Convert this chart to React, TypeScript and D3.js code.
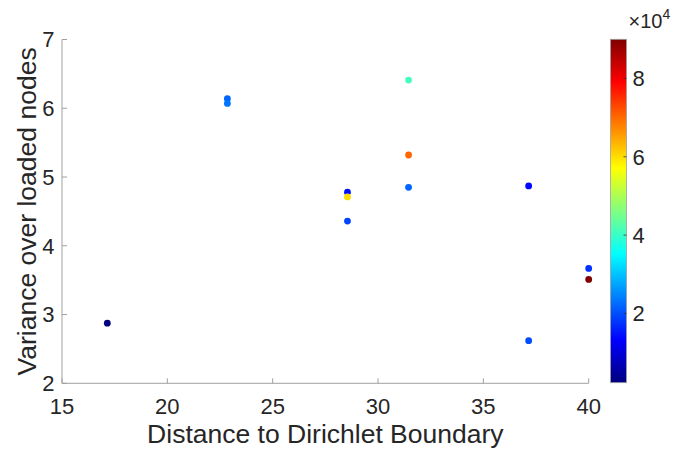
import React from "react";
import * as d3 from "d3";

const distance = [17.15, 22.85, 22.85, 28.55, 28.55, 28.55, 31.45, 31.45, 31.45, 37.15, 37.15, 40, 40];
const variance = [2.875, 6.14, 6.07, 4.78, 4.71, 4.36, 6.41, 5.32, 4.85, 4.87, 2.62, 3.67, 3.51];
const colorValue = [2300, 22000, 23300, 14600, 60000, 19000, 41000, 70300, 22000, 13800, 19800, 17600, 90000];
const xTicks = [15, 20, 25, 30, 35, 40];
const yTicks = [2, 3, 4, 5, 6, 7];
const cTicks = [20000, 40000, 60000, 80000];

const W = 682, H = 455;
const FONT = "'Liberation Sans', Arial, Helvetica, sans-serif";
const TEXT = "#262626";
const AXIS = "#a0a0a0";

function jet(t: number): string {
  const c = (v: number) => Math.max(0, Math.min(1, v));
  const r = c(1.5 - Math.abs(4 * t - 3));
  const g = c(1.5 - Math.abs(4 * t - 2));
  const b = c(1.5 - Math.abs(4 * t - 1));
  return d3.rgb(r * 255, g * 255, b * 255).toString();
}

export default function App() {
  const x = d3.scaleLinear().domain([15, 40]).range([62, 588.7]);
  const y = d3.scaleLinear().domain([2, 7]).range([383.3, 39.5]);
  const cMin = d3.min(colorValue)!, cMax = d3.max(colorValue)!;
  const cNorm = d3.scaleLinear().domain([cMin, cMax]).range([0, 1]).clamp(true);
  const cbY = d3.scaleLinear().domain([cMin, cMax]).range([382.7, 39.3]);
  const cbX0 = 610.5, cbW = 16;
  const stops = d3.range(0, 65).map((i) => i / 64);

  return (
    <svg width={W} height={H} style={{ position: "absolute", left: 0, top: 0, background: "#fff" }} fontFamily={FONT}>
      <defs>
        <linearGradient id="jetGrad" x1="0" y1="1" x2="0" y2="0">
          {stops.map((s, i) => (
            <stop key={i} offset={s} stopColor={jet(s)} />
          ))}
        </linearGradient>
      </defs>
      <rect x={0} y={0} width={W} height={H} fill="#fff" />
      {/* axes */}
      <line x1={x(15)} x2={x(40)} y1={y(2)} y2={y(2)} stroke={AXIS} strokeWidth={1} />
      <line x1={x(15)} x2={x(15)} y1={y(2)} y2={y(7)} stroke={AXIS} strokeWidth={1} />
      {xTicks.map((t) => (
        <g key={"x" + t}>
          <line x1={x(t)} x2={x(t)} y1={y(2)} y2={y(2) - 5} stroke={AXIS} />
          <text x={x(t)} y={413.5} textAnchor="middle" fontSize={22} fill={TEXT}>{t}</text>
        </g>
      ))}
      {yTicks.map((t) => (
        <g key={"y" + t}>
          <line x1={x(15)} x2={x(15) + 5} y1={y(t)} y2={y(t)} stroke={AXIS} />
          <text x={54.5} y={y(t)} dy="0.36em" textAnchor="end" fontSize={22} fill={TEXT}>{t}</text>
        </g>
      ))}
      <text x={(x(15) + x(40)) / 2} y={443} textAnchor="middle" fontSize={26.5} fill={TEXT}>Distance to Dirichlet Boundary</text>
      <text transform={`translate(36, ${(y(2) + y(7)) / 2}) rotate(-90)`} textAnchor="middle" fontSize={26.5} fill={TEXT}>Variance over loaded nodes</text>
      {/* points */}
      {distance.map((d, i) => (
        <circle key={i} cx={x(d)} cy={y(variance[i])} r={3.4} fill={jet(cNorm(colorValue[i]))} />
      ))}
      {/* colorbar */}
      <rect x={cbX0} y={cbY(cMax)} width={cbW} height={cbY(cMin) - cbY(cMax)} fill="url(#jetGrad)" stroke={AXIS} strokeWidth={0.8} />
      {cTicks.map((t) => (
        <g key={"c" + t}>
          <line x1={cbX0 + cbW - 3} x2={cbX0 + cbW} y1={cbY(t)} y2={cbY(t)} stroke="#333" strokeWidth={0.8} />
          <text x={632.5} y={cbY(t)} dy="0.36em" fontSize={22} fill={TEXT}>{t / 10000}</text>
        </g>
      ))}
      <text x={628.5} y={27.5} fontSize={20} fill={TEXT}>×10<tspan dy={-9} fontSize={14}>4</tspan></text>
    </svg>
  );
}
